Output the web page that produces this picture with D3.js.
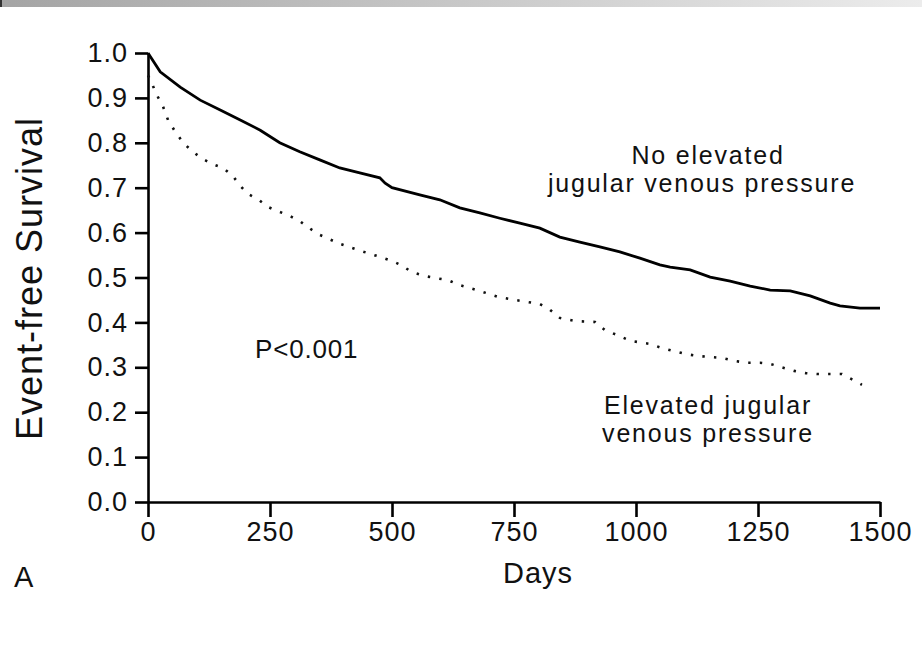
<!DOCTYPE html>
<html>
<head>
<meta charset="utf-8">
<script src="https://cdn.jsdelivr.net/npm/d3@7"></script>
<style>
  body { margin: 0; background: #fff; }
  text { font-family: "Liberation Sans", Arial, Helvetica, sans-serif; fill: #111; }
</style>
</head>
<body>
<div id="chart"></div>
<script>
// tick labels
const xTicks = [0, 250, 500, 750, 1000, 1250, 1500];
const yTicks = [0, 0.1, 0.2, 0.3, 0.4, 0.5, 0.6, 0.7, 0.8, 0.9, 1.0];

// no elevated JVP (solid)
const normalDays = [0, 25, 66, 107, 148, 189, 230, 270, 311, 352, 393, 434, 475, 486, 500, 557, 598, 639, 680, 721, 762, 803, 844, 885, 926, 967, 1008, 1049, 1070, 1111, 1152, 1193, 1234, 1275, 1316, 1357, 1398, 1418, 1459, 1500];
const normalSurv = [1.0, 0.958, 0.924, 0.895, 0.873, 0.851, 0.828, 0.80, 0.78, 0.762, 0.744, 0.733, 0.722, 0.71, 0.70, 0.684, 0.673, 0.655, 0.644, 0.632, 0.621, 0.61, 0.59, 0.579, 0.568, 0.557, 0.543, 0.528, 0.523, 0.517, 0.501, 0.492, 0.481, 0.472, 0.47, 0.459, 0.443, 0.437, 0.432, 0.432];

// elevated JVP (dotted)
const elevDays = [0, 6, 16, 31, 41, 55, 72, 90, 109, 131, 154, 174, 189, 205, 227, 246, 270, 291, 313, 336, 352, 393, 434, 475, 500, 518, 541, 568, 588, 615, 639, 680, 717, 752, 803, 824, 844, 875, 916, 936, 961, 988, 1029, 1053, 1078, 1100, 1127, 1152, 1176, 1203, 1227, 1254, 1277, 1299, 1324, 1348, 1371, 1422, 1441, 1463];
const elevSurv = [0.95, 0.938, 0.911, 0.88, 0.851, 0.826, 0.80, 0.782, 0.766, 0.753, 0.744, 0.726, 0.704, 0.686, 0.673, 0.657, 0.646, 0.637, 0.624, 0.606, 0.595, 0.575, 0.56, 0.546, 0.537, 0.528, 0.512, 0.503, 0.499, 0.494, 0.483, 0.47, 0.457, 0.45, 0.441, 0.428, 0.41, 0.403, 0.401, 0.383, 0.372, 0.359, 0.352, 0.343, 0.336, 0.33, 0.325, 0.323, 0.321, 0.314, 0.31, 0.31, 0.307, 0.30, 0.292, 0.287, 0.285, 0.285, 0.274, 0.261];

const width = 922;
const height = 660;
const [mt, mr, mb, ml] = [53, 42, 158, 148];

const svg = d3.select('#chart')
  .append('svg')
  .attr('width', width)
  .attr('height', height)
  .attr('viewBox', [0, 0, width, height]);

// grey band across the top
const grad = svg.append('defs').append('linearGradient')
  .attr('id', 'topband')
  .attr('x1', '0%').attr('x2', '100%');
grad.append('stop').attr('offset', '0%').attr('stop-color', '#a4a4a4');
grad.append('stop').attr('offset', '100%').attr('stop-color', '#ececec');
svg.append('rect').attr('x', 0).attr('y', 0).attr('width', width).attr('height', 7).attr('fill', 'url(#topband)');
svg.append('rect').attr('x', 0).attr('y', 0).attr('width', 2).attr('height', 7).attr('fill', '#333');

const x = d3.scaleLinear().domain([0, 1500]).range([ml, width - mr]);
const y = d3.scaleLinear().domain([0, 1]).range([height - mb, mt]);

const xAxisG = svg.append('g')
  .attr('transform', `translate(0,${height - mb})`)
  .call(d3.axisBottom(x).tickValues(xTicks).tickSize(15).tickSizeOuter(0).tickPadding(5).tickFormat(d3.format('d')));
const yAxisG = svg.append('g')
  .attr('transform', `translate(${ml},0)`)
  .call(d3.axisLeft(y).tickValues(yTicks).tickSize(13).tickSizeOuter(0).tickPadding(7).tickFormat(d3.format('.1f')));

[xAxisG, yAxisG].forEach(g => {
  g.selectAll('path, line').attr('stroke', '#000').attr('stroke-width', 2.6);
  g.selectAll('text')
    .style('font-size', '27px')
    .style('letter-spacing', '1px')
    .attr('fill', '#111');
});

// curves
const line = d3.line()
  .x(d => x(d[0]))
  .y(d => y(d[1]));

svg.append('path')
  .attr('fill', 'none')
  .attr('stroke', '#000')
  .attr('stroke-width', 2.8)
  .attr('d', line(d3.zip(normalDays, normalSurv)));

svg.append('path')
  .attr('fill', 'none')
  .attr('stroke', '#111')
  .attr('stroke-width', 2.6)
  .attr('stroke-dasharray', '2.4 9.2')
  .attr('d', line(d3.zip(elevDays, elevSurv)));

// labels
svg.append('text')
  .attr('transform', `translate(42,${(mt + height - mb) / 2 + 1}) rotate(-90)`)
  .attr('text-anchor', 'middle')
  .style('font-size', '36px')
  .style('letter-spacing', '1px')
  .text('Event-free Survival');

svg.append('text')
  .attr('x', 538).attr('y', 583)
  .attr('text-anchor', 'middle')
  .style('font-size', '29px')
  .style('letter-spacing', '1px')
  .text('Days');

svg.append('text')
  .attr('x', 14).attr('y', 587)
  .style('font-size', '29px')
  .text('A');

const note = svg.append('g').style('font-size', '25px').style('letter-spacing', '1.8px');
note.append('text').attr('x', 708).attr('y', 164).attr('text-anchor', 'middle').text('No elevated');
note.append('text').attr('x', 702).attr('y', 192).attr('text-anchor', 'middle').text('jugular venous pressure');
note.append('text').attr('x', 708).attr('y', 414).attr('text-anchor', 'middle').text('Elevated jugular');
note.append('text').attr('x', 708).attr('y', 442).attr('text-anchor', 'middle').text('venous pressure');
note.append('text').attr('x', 255).attr('y', 358).style('font-size', '26px').style('letter-spacing', '0.8px').text('P<0.001');
</script>
</body>
</html>
